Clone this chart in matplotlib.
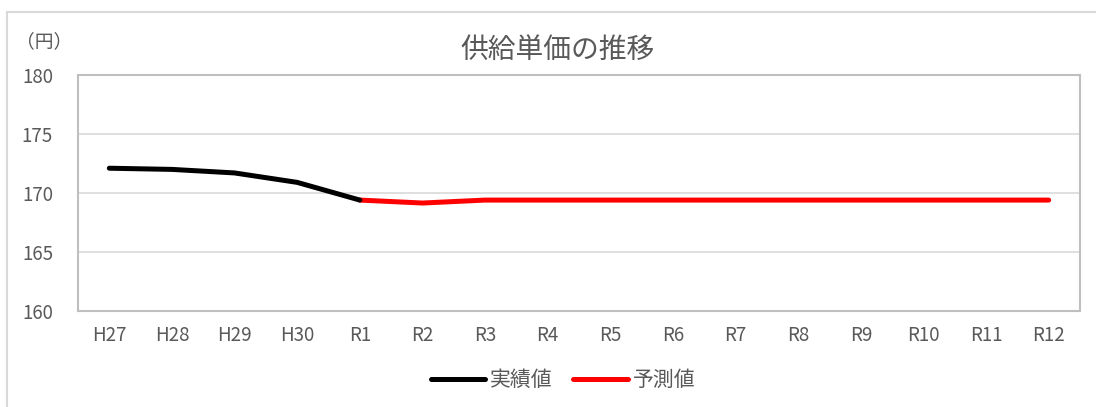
import matplotlib
matplotlib.use("Agg")
import matplotlib.pyplot as plt
from matplotlib.lines import Line2D

plt.rcParams['font.family'] = ['Noto Sans CJK JP', 'DejaVu Sans']

categories = ["H27", "H28", "H29", "H30", "R1", "R2", "R3", "R4", "R5", "R6",
              "R7", "R8", "R9", "R10", "R11", "R12"]
actual_labels = categories[:5]
actual_values = [172.1, 172.0, 171.7, 170.9, 169.4]
forecast_labels = categories[4:]
forecast_values = [169.4, 169.15, 169.4, 169.4, 169.4, 169.4, 169.4, 169.4,
                   169.4, 169.4, 169.4, 169.4]
yticks = [160, 165, 170, 175, 180]

title = "供給単価の推移"
unit = "（円）"
series_names = ["実績値", "予測値"]

W, H = 1096, 407
fig = plt.figure(figsize=(W / 100, H / 100), dpi=100)
ax = fig.add_axes([78 / W, 1 - 311 / H, (1080 - 78) / W, (311 - 75) / H])

txt = "#595959"
grid = "#d9d9d9"

xa = [categories.index(c) for c in actual_labels]
xf = [categories.index(c) for c in forecast_labels]
ax.plot(xf, forecast_values, color="#ff0000", lw=3.6, solid_capstyle="round",
        solid_joinstyle="round", label=series_names[1], zorder=3)
ax.plot(xa, actual_values, color="#000000", lw=3.6, solid_capstyle="round",
        solid_joinstyle="round", label=series_names[0], zorder=4)

ax.set_xlim(-0.5, len(categories) - 0.5)
ax.set_ylim(yticks[0], yticks[-1])
ax.set_yticks(yticks)
ax.set_xticks(range(len(categories)))
ax.set_xticklabels(categories)
ax.tick_params(axis="both", length=0, labelsize=13.5, labelcolor=txt)
ax.tick_params(axis="y", pad=18)
ax.tick_params(axis="x", pad=10)
ax.grid(axis="y", color=grid, lw=1.2)
ax.set_axisbelow(True)
for s in ax.spines.values():
    s.set_color("#bfbfbf")
    s.set_linewidth(1.5)

fig.text(558 / W, 1 - 50 / H, title, ha="center", va="center", fontsize=20, color=txt)
fig.text(16 / W, 1 - 42 / H, unit, ha="left", va="center", fontsize=13.5, color=txt)

h, l = ax.get_legend_handles_labels()
order = [1, 0]
fig.legend([h[i] for i in order], [l[i] for i in order], loc="center",
           bbox_to_anchor=(563 / W, 1 - 380 / H), ncol=2, frameon=False,
           fontsize=15, labelcolor=txt, handlelength=2.6, handletextpad=0.25,
           columnspacing=1.0)

# outer chart border
fig.add_artist(Line2D([7 / W, 1.0], [1 - 12 / H, 1 - 12 / H], color=grid, lw=1.5,
                      transform=fig.transFigure))
fig.add_artist(Line2D([7 / W, 7 / W], [0, 1 - 12 / H], color=grid, lw=1.5,
                      transform=fig.transFigure))

fig.savefig("out.png", dpi=100)
